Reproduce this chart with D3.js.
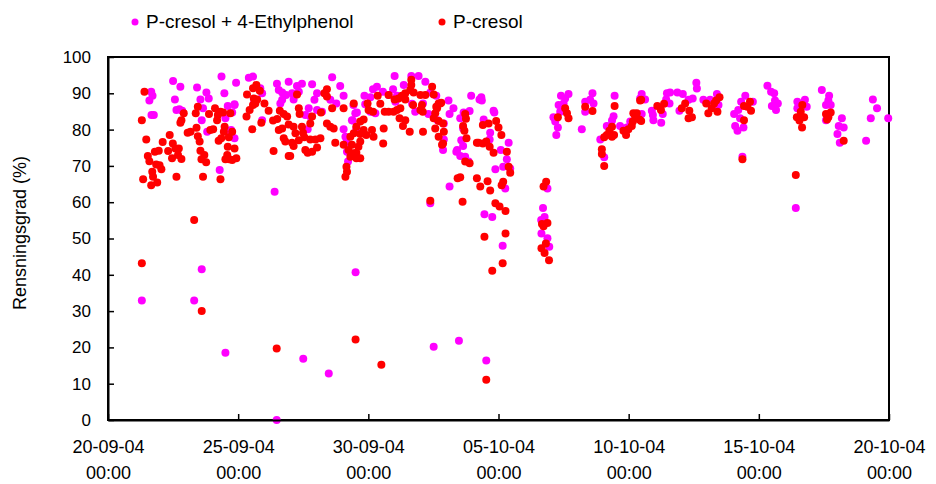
<!DOCTYPE html>
<meta charset="utf-8">
<script src="https://d3js.org/d3.v7.min.js"></script>
<style>
  body { margin: 0; background: #fff; }
  text { font-family: "Liberation Sans", Arial, sans-serif; fill: #000; }
</style>
<body>
<script>

// x ticks: every 5 days, labels as in the original (dd-mm-yy / hh:mm)
var tickDays = [0, 5, 10, 15, 20, 25, 30];
var tickLabels = ["20-09-04", "25-09-04", "30-09-04", "05-10-04", "10-10-04", "15-10-04", "20-10-04"];
var yTicks = [0, 10, 20, 30, 40, 50, 60, 70, 80, 90, 100];
var seriesNames = ["P-cresol + 4-Ethylphenol", "P-cresol"];
var seriesColors = ["#ff00ff", "#ff0000"];

// [days since 20-09-04 00:00, Rensningsgrad %]
var sumData = [
  [1.30,32.9],[3.31,32.9],[3.60,41.5],[4.51,18.5],[6.48,0],[7.50,16.9],[8.48,12.8],[9.51,40.7],
  [12.51,20.2],[13.48,21.8],[14.53,16.4],[15.16,48.0],[6.40,62.9],
  [1.66,90.4],[1.71,89.3],[1.59,88.0],[1.67,84.0],[1.76,84.0],[2.50,93.4],[2.78,91.8],[2.57,88.3],
  [2.63,85.4],[2.74,85.6],[2.85,85.2],[3.42,91.6],[3.55,88.3],[3.78,90.2],[3.87,88.6],[3.65,85.9],
  [3.60,82.6],[3.81,79.4],[4.36,94.6],[4.92,92.9],[4.47,90.0],[4.60,86.5],[4.86,86.8],[4.77,84.7],
  [4.51,83.1],[4.66,79.0],[4.86,77.6],[4.29,68.9],
  [5.41,94.3],[5.57,94.6],[5.85,91.4],[5.92,90.0],[4.86,87.0],[5.62,87.7],[6.49,92.6],[6.94,93.2],
  [7.45,92.6],[7.26,92.0],[7.84,92.5],[6.69,90.2],[6.56,90.9],[6.84,89.5],[7.07,90.0],[7.33,90.4],
  [7.13,88.3],[8.03,90.0],[7.93,88.2],[8.61,94.4],[8.92,92.0],[9.05,89.3],[8.54,88.2],[8.77,87.2],
  [9.50,84.5],[9.37,82.6],[9.54,80.4],[7.71,85.9],[7.77,83.6],[7.58,84.0],[8.22,84.9],[8.03,85.4],
  [6.62,87.2],[6.69,88.2],[9.12,78.0],[9.16,76.4],[9.18,73.9],[9.22,71.2],[9.05,80.1],[4.73,79.9],
  [5.92,82.6],[7.67,80.1],
  [11.01,94.8],[11.65,94.8],[11.93,94.8],[12.19,93.2],[11.36,92.3],[10.95,91.1],[10.33,91.8],[10.18,91.1],
  [10.56,90.4],[9.85,89.3],[10.08,88.9],[10.78,89.5],[11.10,89.3],[12.61,89.3],[12.38,90.2],[13.08,88.0],
  [13.27,85.9],[13.12,84.3],[14.27,88.3],[12.10,87.2],[11.68,87.1],[11.04,87.7],[9.88,87.0],[9.43,86.8],
  [9.56,84.7],[9.40,82.5],[10.08,84.9],[10.27,84.5],[11.80,84.9],[12.31,84.3],[12.90,81.7],[12.66,82.6],
  [13.57,77.1],[13.64,75.5],[13.41,74.4],[13.72,72.5],[13.85,71.2],[12.90,77.3],[12.87,74.4],[13.38,73.9],
  [13.53,72.7],[13.64,80.3],[13.12,64.3],[12.38,59.7],
  [13.95,89.3],[14.34,88.9],[14.36,88.0],[13.89,85.1],[13.66,84.7],[13.53,83.1],[14.43,82.8],[14.81,85.2],
  [14.84,84.7],[14.68,79.1],[14.66,77.3],[15.09,74.4],[15.39,76.4],[15.32,71.8],[15.45,69.3],[15.18,69.8],
  [14.88,69.1],[15.26,63.8],[14.46,56.7],[14.76,55.9],
  [16.71,58.4],[16.77,55.9],[16.64,55.1],[16.65,51.4],[16.88,50.1],[16.95,47.7],[16.88,63.8],[26.42,58.4],
  [17.40,89.3],[17.69,89.8],[17.56,88.6],[17.31,86.8],[17.50,87.2],[17.37,84.9],[17.11,83.4],[17.18,82.2],
  [17.28,80.6],[17.22,78.5],[18.20,80.1],[18.33,87.7],[18.52,88.2],[18.61,90.0],[18.65,87.2],[18.33,84.9],
  [19.46,89.3],[19.42,83.7],[19.36,82.5],[19.16,81.0],[18.91,77.3],[19.06,72.4],[19.67,81.0],[19.85,80.1],
  [20.06,82.2],[19.93,80.6],[20.44,88.6],
  [20.50,89.8],[20.63,88.3],[20.50,84.3],[20.89,85.2],[20.95,82.6],[20.93,84.0],[21.25,81.9],[21.31,84.3],
  [21.44,88.3],[21.47,90.0],[21.59,90.2],[21.57,87.2],[21.87,90.2],[22.08,89.8],[21.95,85.2],[22.30,88.2],
  [22.46,88.6],[22.60,92.9],[22.62,91.3],[22.87,88.2],[23.13,88.2],[23.39,89.8],[23.45,86.8],[24.05,84.3],
  [24.09,81.0],[24.18,79.7],[24.41,80.6],[24.28,83.1],[24.21,85.4],[24.32,87.7],[24.48,89.3],[24.77,87.7],
  [24.37,72.5],[25.33,92.1],[25.47,90.4],[25.59,90.0],[25.62,88.0],[25.73,87.2],[25.50,86.5],[25.66,85.4],
  [26.48,87.7],[26.77,88.2],[26.48,85.9],[26.84,86.3],[27.42,90.9],[27.70,89.3],[27.67,88.0],[27.76,86.8],
  [27.58,86.8],[27.58,82.6],[28.19,83.1],[28.07,81.0],[28.26,80.6],[28.02,78.8],[28.11,76.4],[29.12,76.9],
  [29.38,88.3],[29.30,83.1],[29.54,85.9],[29.97,83.1]
];

var cresolData = [
  [1.30,43.2],[1.30,82.6],[1.40,90.4],[1.47,77.3],[1.53,72.7],[1.59,71.3],[1.70,68.4],[1.35,66.3],
  [1.73,67.0],[1.66,64.7],[1.85,70.4],[1.80,73.9],[1.95,74.2],[2.10,76.6],[1.98,70.2],[2.05,69.1],
  [1.89,65.4],[2.37,78.5],[2.31,74.1],[2.46,72.1],[2.49,76.2],[2.59,74.8],[2.72,74.8],[2.69,73.0],
  [2.82,71.9],[2.63,67.0],[2.78,81.9],[2.82,82.6],[2.91,84.5],[3.06,79.1],[3.17,79.4],[3.37,84.5],
  [3.40,80.5],[3.45,78.2],[3.52,76.7],[3.55,74.2],[3.59,71.8],[3.70,73.0],[3.77,71.0],[3.65,67.0],
  [3.45,86.3],[3.88,84.3],[4.11,85.9],[3.93,79.9],[4.04,80.1],[4.19,82.6],[4.22,84.0],[4.32,84.9],
  [4.42,84.7],[4.25,76.9],[4.35,77.6],[4.45,79.4],[4.60,75.3],[4.51,71.8],[4.66,71.8],[4.77,71.6],
  [4.93,72.1],[4.58,73.0],[4.86,74.8],[4.64,77.9],[4.77,79.4],[4.48,80.8],[4.70,84.5],[4.32,66.3],
  [3.31,55.1],[3.60,30.0],[6.48,19.7],[9.51,22.2],[10.50,15.2],
  [5.34,89.7],[5.57,91.4],[5.70,92.3],[5.83,90.7],[5.60,88.6],[5.73,88.3],[5.57,86.8],[5.66,87.2],
  [6.01,87.2],[5.44,85.4],[5.32,83.6],[5.89,81.9],[5.54,80.1],[6.17,85.2],[6.60,85.2],[6.75,84.3],
  [6.88,83.6],[6.34,82.5],[6.50,82.9],[6.94,81.4],[7.13,80.8],[6.56,79.9],[6.69,80.3],[7.20,79.0],
  [6.75,77.6],[6.81,76.7],[7.07,76.4],[7.13,75.5],[6.36,74.1],[6.94,72.7],[7.00,72.7],[7.58,74.4],
  [7.67,73.6],[7.84,73.9],[8.03,75.1],[8.16,77.6],[7.97,77.3],[7.77,77.3],[7.54,77.9],[7.49,79.1],
  [7.33,77.1],[7.45,80.8],[7.36,84.3],[7.33,85.9],[7.26,89.7],[7.84,83.6],[7.77,81.7],[8.18,84.7],
  [8.31,90.0],[8.41,91.1],[8.41,89.1],[8.61,85.9],[8.41,81.7],[8.54,80.8],[8.67,80.3],[8.73,76.4],
  [9.05,85.9],[9.05,75.8],[9.31,78.0],[9.37,75.8],[9.24,74.4],[9.31,72.5],[9.54,72.1],[9.43,73.5],
  [9.16,69.8],[9.18,68.4],[9.12,67.0],[9.69,72.1],
  [10.57,76.2],[12.10,79.4],[11.59,79.4],[12.45,91.8],[12.51,89.7],[12.76,87.2],[12.64,85.9],[12.57,84.5],
  [12.51,83.1],[12.70,82.4],[12.87,81.7],[12.90,79.4],[12.70,78.0],[12.87,76.2],[12.57,80.3],[13.43,66.6],
  [12.38,60.4],[13.53,66.9],[13.62,60.1],
  [11.65,93.7],[11.65,92.3],[11.61,90.9],[11.42,90.0],[11.29,89.3],[11.74,90.2],[12.00,89.5],[12.19,89.5],
  [10.78,89.5],[11.01,88.3],[11.16,88.6],[11.42,88.3],[10.36,89.3],[10.46,87.1],[10.01,85.4],[10.18,84.9],
  [9.97,87.2],[10.63,84.9],[10.78,84.9],[10.97,84.9],[11.10,85.4],[11.23,85.9],[11.20,83.1],[11.42,82.6],
  [11.33,81.0],[11.72,86.8],[12.00,85.4],[12.06,86.8],[12.09,84.9],[12.61,86.3],[12.70,87.2],[12.80,87.4],
  [9.44,87.2],[9.54,80.8],[9.44,79.0],[9.69,78.8],[9.69,76.7],[9.82,79.9],[9.92,78.5],[10.14,79.9],
  [10.20,78.0],[10.59,80.3],[9.62,75.3],[9.54,73.6],[9.82,82.8],[9.69,82.2],[13.77,77.6],[12.83,75.8],
  [13.72,84.3],[13.75,83.0],[13.64,81.0],[13.69,79.7],[14.40,81.3],[14.62,81.7],[14.91,82.4],[15.00,80.6],
  [15.11,78.5],[14.23,76.4],[14.40,76.2],[14.53,76.7],[14.66,75.3],[14.81,73.6],[15.32,73.9],[15.39,69.8],
  [15.45,68.1],[13.72,71.2],[13.89,70.7],[14.17,66.6],[14.30,64.3],[14.68,63.2],[14.58,65.8],[15.12,64.7],
  [15.18,65.6],[14.17,76.4],
  [14.88,59.7],[15.04,58.8],[15.27,57.6],[14.46,50.5],[15.27,51.4],[15.16,43.2],[14.76,41.1],[14.53,11.1],
  [16.83,65.6],[16.73,64.3],[16.67,54.0],[16.88,54.3],[16.73,53.4],[16.82,48.6],[16.65,47.3],[16.77,46.0],
  [16.94,44.0],
  [17.56,85.9],[17.63,84.5],[17.69,83.1],[17.28,83.4],[18.33,86.3],[18.61,85.1],[19.46,86.5],[19.36,80.8],
  [19.26,79.7],[19.16,78.5],[19.36,78.0],[19.44,78.5],[19.06,77.9],[18.97,74.6],[18.97,73.3],[19.06,70.0],
  [19.80,79.7],[19.90,78.5],[19.99,80.1],[20.12,81.0],[20.16,82.2],[20.25,83.7],[20.18,84.5],[20.31,84.5],
  [20.41,82.8],[20.44,88.0],
  [20.48,88.2],[20.48,82.4],[21.10,86.5],[21.24,85.4],[21.36,87.1],[22.17,87.2],[22.04,85.9],[22.33,85.2],
  [22.30,83.1],[22.43,83.4],[22.98,87.2],[23.06,84.5],[23.19,85.9],[23.28,87.2],[23.36,88.0],[23.49,88.9],
  [23.41,84.9],[24.43,86.5],[24.43,82.6],[24.56,86.3],[24.70,85.2],[24.66,87.7],[24.37,71.8],[26.42,67.5],
  [26.67,86.8],[26.61,84.9],[26.46,83.4],[26.58,83.4],[26.74,83.4],[26.56,82.5],[26.66,80.6],[27.76,84.7],
  [27.58,84.3],[27.67,83.4],[27.62,82.8],[28.26,76.9]
];

var start = new Date(2004, 8, 20);
function toDate(d) { return new Date(start.getTime() + d * 86400000); }

var margin = {top: 57, right: 47, bottom: 64, left: 108},
    width = 936 - margin.left - margin.right,
    height = 484 - margin.top - margin.bottom;

var svg = d3.select("body").append("svg")
    .attr("width", 936)
    .attr("height", 484);

var g = svg.append("g")
    .attr("transform", "translate(" + margin.left + "," + margin.top + ")");

var x = d3.scaleTime()
    .domain([toDate(0), toDate(30)])
    .range([0, width]);

var y = d3.scaleLinear()
    .domain([0, 100])
    .range([height, 0]);

// frame (top and right edges)
g.append("rect")
    .attr("width", width)
    .attr("height", height)
    .attr("fill", "none")
    .attr("stroke", "#000")
    .attr("stroke-width", 2);

// points: magenta first, red on top
g.append("g").selectAll("circle")
  .data(sumData)
  .enter().append("circle")
    .attr("cx", function(d) { return x(toDate(d[0])); })
    .attr("cy", function(d) { return y(d[1]); })
    .attr("r", 4)
    .attr("fill", seriesColors[0]);

g.append("g").selectAll("circle")
  .data(cresolData)
  .enter().append("circle")
    .attr("cx", function(d) { return x(toDate(d[0])); })
    .attr("cy", function(d) { return y(d[1]); })
    .attr("r", 4)
    .attr("fill", seriesColors[1]);

// y axis
var yAxis = g.append("g")
    .call(d3.axisLeft(y).tickValues(yTicks).tickSize(-6).tickSizeOuter(0).tickPadding(17));
yAxis.selectAll("text").style("font-size", "17px");

// x axis with two-line labels
var xAxis = g.append("g")
    .attr("transform", "translate(0," + height + ")")
    .call(d3.axisBottom(x).tickValues(tickDays.map(toDate)).tickSize(-6).tickSizeOuter(0));
xAxis.selectAll(".tick text").each(function(d, i) {
  var t = d3.select(this).text("").attr("y", 0).attr("dy", null).style("font-size", "18px");
  t.append("tspan").attr("x", 0).attr("y", 33).text(tickLabels[i]);
  t.append("tspan").attr("x", 0).attr("y", 59).text("00:00");
});

g.selectAll(".domain").attr("stroke-width", 2);
g.selectAll(".tick line").attr("stroke-width", 1.5);

// y title
svg.append("text")
    .attr("transform", "translate(20,233) rotate(-90)")
    .attr("text-anchor", "middle")
    .attr("dy", ".35em")
    .style("font-size", "18px")
    .text("Rensningsgrad (%)");

// legend
var legendX = [135, 442];
var legend = svg.selectAll(".legend")
  .data(seriesNames)
  .enter().append("g")
    .attr("class", "legend")
    .attr("transform", function(d, i) { return "translate(" + legendX[i] + ",22)"; });

legend.append("circle")
    .attr("r", 3.5)
    .attr("fill", function(d, i) { return seriesColors[i]; });

legend.append("text")
    .attr("x", 11)
    .attr("y", 6)
    .style("font-size", "19px")
    .text(function(d) { return d; });

</script>
</body>
